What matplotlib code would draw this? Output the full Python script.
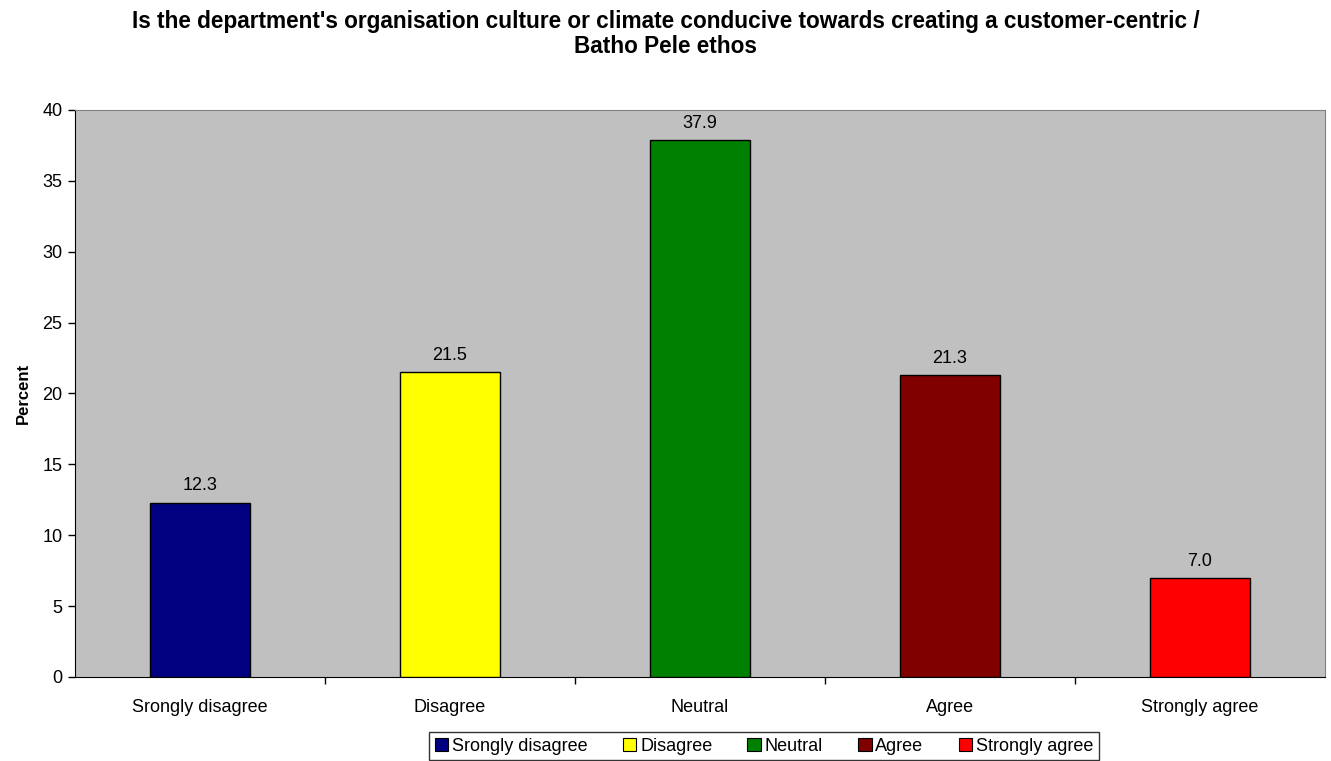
import matplotlib
matplotlib.use("Agg")
import matplotlib.pyplot as plt
from matplotlib.patches import Patch

plt.rcParams['font.family'] = ['Liberation Sans', 'DejaVu Sans']

categories = ["Srongly disagree", "Disagree", "Neutral", "Agree", "Strongly agree"]
values = [12.3, 21.5, 37.9, 21.3, 7.0]
colors = ["#000080", "#FFFF00", "#008000", "#800000", "#FF0000"]
y_ticks = [0, 5, 10, 15, 20, 25, 30, 35, 40]
title = ("Is the department's organisation culture or climate conducive towards creating a customer-centric /\n"
         "Batho Pele ethos")

fig = plt.figure(figsize=(13.31, 7.61), dpi=100)
ax = fig.add_axes([0.0563, 0.1104, 0.9392, 0.7451])
ax.set_facecolor("#C0C0C0")

x = list(range(len(categories)))
ax.bar(x, values, width=0.4, color=colors, edgecolor="black", linewidth=1.0, zorder=3)
for xi, v in zip(x, values):
    ax.annotate(f"{v:.1f}", xy=(xi, v), xytext=(0, 12), textcoords="offset points",
                ha="center", va="center", fontsize=13)

ax.set_xlim(-0.5, len(categories) - 0.5)
ax.set_ylim(0, 40)
ax.set_yticks(y_ticks)
ax.tick_params(axis="y", labelsize=13, length=5, width=1, direction="out", pad=4)
ax.set_xticks(x)
ax.set_xticklabels(categories, fontsize=13)
ax.tick_params(axis="x", which="major", length=0, pad=16)
ax.set_xticks([i + 0.5 for i in x[:-1]], minor=True)
ax.tick_params(axis="x", which="minor", length=5, width=1, direction="out")

for side in ("top", "right"):
    ax.spines[side].set_color("#808080")
for side in ("left", "bottom"):
    ax.spines[side].set_color("black")

ax.set_ylabel("Percent", fontsize=12, fontweight="bold", labelpad=8)
fig.text(0.5, 1 - 10 / 761, title, ha="center", va="top", fontsize=16.3,
         fontweight="bold", linespacing=1.1)

handles = [Patch(facecolor=c, edgecolor="black", linewidth=0.8) for c in colors]
leg = fig.legend(handles, categories, loc="lower center", bbox_to_anchor=(0.574, 0.0),
                 ncol=5, fontsize=13, frameon=True, fancybox=False, edgecolor="black",
                 handlelength=0.75, handleheight=0.75, handletextpad=0.2, columnspacing=1.95,
                 borderpad=0.3, borderaxespad=0.05)
leg.get_frame().set_linewidth(1.0)

fig.savefig("out.png", dpi=100)
